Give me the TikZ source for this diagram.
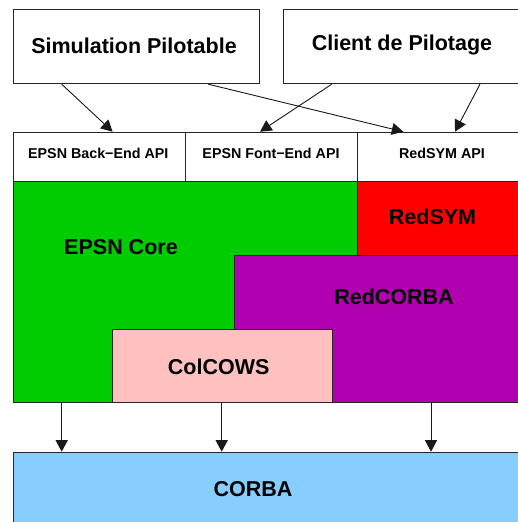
\documentclass[tikz,border=0pt]{standalone}
\usepackage{fontspec}
\setmainfont{Liberation Sans}
\usetikzlibrary{arrows.meta}
\definecolor{coregreen}{HTML}{00CD00}
\definecolor{symred}{HTML}{FF0000}
\definecolor{corbapurple}{HTML}{B000B0}
\definecolor{cowspink}{HTML}{FFC0C0}
\definecolor{corbablue}{HTML}{87CEFF}
\begin{document}
\begin{tikzpicture}[x=1pt,y=-1pt,
  blk/.style={draw=black!85,line width=0.9pt,inner sep=0pt,anchor=north west},
  big/.style={font=\fontsize{21.5}{24}\selectfont\bfseries,inner sep=0pt},
  small/.style={font=\fontsize{14.3}{16}\selectfont\bfseries,inner sep=0pt},
  arr/.style={draw=black!90,line width=0.9pt,-{Triangle[length=11.5pt,width=12pt]}}]
\useasboundingbox (0,0) rectangle (518,522);
\clip (0,0) rectangle (518,522);
\fill[white] (0,0) rectangle (518,522);
% top boxes
\node[blk,fill=white,minimum width=246pt,minimum height=74pt] (sim) at (13.3,9.3) {};
\node[blk,fill=white,minimum width=260pt,minimum height=74pt] (cli) at (283.3,9.3) {};
\node[big] (simt) at (134,46) {Simulation Pilotable};
\node[big] (clit) at (402,44.5) {Client de Pilotage};
% API row
\node[blk,fill=white,minimum width=171.7pt,minimum height=49.3pt] (back) at (13.3,131.7) {};
\node[blk,fill=white,minimum width=172.3pt,minimum height=49.3pt] (front) at (185,131.7) {};
\node[blk,fill=white,minimum width=200pt,minimum height=49.3pt] (symapi) at (357.3,131.7) {};
\node[small] (backt) at (98.3,153) {EPSN Back−End API};
\node[small] (frontt) at (271,153) {EPSN Font−End API};
\node[small] (symapit) at (442,153) {RedSYM API};
% layers
\node[blk,fill=coregreen,minimum width=544pt,minimum height=221.3pt] (core) at (13.3,181) {};
\node[blk,fill=symred,minimum width=200pt,minimum height=74pt] (sym) at (357.3,181) {};
\node[blk,fill=corbapurple,minimum width=300pt,minimum height=147.3pt] (rcorba) at (234.3,255) {};
\node[blk,fill=cowspink,minimum width=220.6pt,minimum height=73.3pt] (cows) at (111.7,329) {};
\node[big] (coret) at (121,247) {EPSN Core};
\node[big] (symt) at (432.5,217) {RedSYM};
\node[big] (rcorbat) at (394,297) {RedCORBA};
\node[big] (cowst) at (218.7,367) {ColCOWS};
% CORBA
\node[blk,fill=corbablue,minimum width=544pt,minimum height=100pt] (corba) at (13.3,451.7) {};
\node[big] (corbat) at (253,489.5) {CORBA};
% arrows top
\draw[arr] ([xshift=48.4pt]sim.south west) -- ([xshift=-73.3pt]back.north east);
\draw[arr] ([xshift=195pt]sim.south west) -- ([xshift=46pt]symapi.north west);
\draw[arr] ([xshift=48.4pt]cli.south west) -- ([xshift=75pt]front.north west);
\draw[arr] ([xshift=196.7pt]cli.south west) -- ([xshift=97.7pt]symapi.north west);
% arrows bottom
\coordinate (b1) at (61.7,402.3);
\coordinate (b2) at (221.7,402.3);
\coordinate (b3) at (431,402.3);
\draw[arr] (b1) -- (b1 |- corba.north);
\draw[arr] (b2) -- (b2 |- corba.north);
\draw[arr] (b3) -- (b3 |- corba.north);
\end{tikzpicture}
\end{document}
